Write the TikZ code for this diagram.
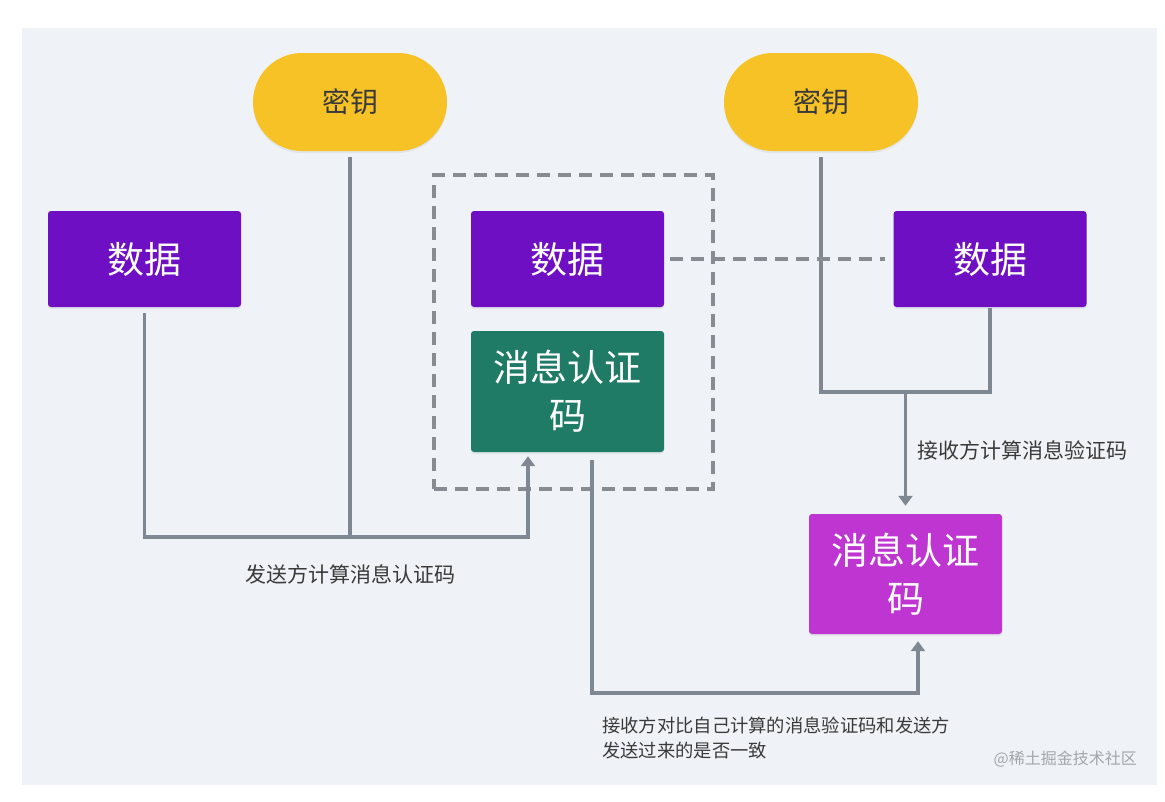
\documentclass[tikz,border=0pt]{standalone}
\usepackage{fontspec}
\setmainfont{Noto Sans CJK SC}
\usetikzlibrary{arrows.meta,shapes.misc,shadows}
\definecolor{panelbg}{HTML}{EFF3F7}
\definecolor{keyyellow}{HTML}{F6C225}
\definecolor{datapurple}{HTML}{6F0FC3}
\definecolor{macgreen}{HTML}{1F7A66}
\definecolor{macmagenta}{HTML}{BE35D2}
\definecolor{linegray}{HTML}{7F8892}
\definecolor{dashgray}{HTML}{878C93}
\definecolor{textdark}{HTML}{3A3A3A}
\definecolor{wmgray}{HTML}{A3A7AB}
\tikzset{
  softshadow/.style={drop shadow={opacity=0.12,shadow xshift=0pt,shadow yshift=-2pt}},
  keynode/.style={rounded rectangle,fill=keyyellow,minimum width=194pt,minimum height=98pt,inner sep=0pt,text=textdark,font=\fontsize{28}{34}\selectfont,softshadow},
  boxnode/.style={rectangle,rounded corners=3pt,minimum width=193pt,inner sep=0pt,text=white,align=center,softshadow},
  datanode/.style={boxnode,fill=datapurple,minimum height=96pt,font=\fontsize{37}{44}\selectfont},
  macnode/.style={boxnode,minimum height=121pt,font=\fontsize{37}{48}\selectfont},
  conn/.style={draw=linegray,line width=3.5pt},
  arrowconn/.style={conn,-{Triangle[width=14pt,length=10pt]}},
  dashline/.style={draw=dashgray,line width=4pt,dash pattern=on 13pt off 8pt},
  lbl/.style={text=textdark,inner sep=0pt},
}
\begin{document}
\begin{tikzpicture}[x=1pt,y=-1pt]
\useasboundingbox (0,0) rectangle (1165,801);
\fill[white] (0,0) rectangle (1165,801);
\fill[panelbg] (22,28) rectangle (1157,785);

% group box
\node[dashline,draw,rectangle,minimum width=279pt,minimum height=314pt,inner sep=0pt] (group) at (573.5,332) {};

% nodes
\node[keynode] (lkey) at (350,102) {密钥};
\node[keynode] (rkey) at (821,102) {密钥};
\node[datanode] (ldata) at (144.5,259) {数据};
\node[datanode] (mdata) at (567.5,259) {数据};
\node[datanode] (rdata) at (990,259) {数据};
\node[macnode,fill=macgreen] (gmac) at (567.5,391.5) {消息认证\\码};
\node[macnode,fill=macmagenta,minimum height=120pt] (mmac) at (905.5,574) {消息认证\\码};

% helper coordinates
\coordinate (sendy) at (0,537);
\coordinate (cmpy) at (0,693);
\coordinate (recvy) at (0,392);
\coordinate (gin) at ([xshift=-39.5pt]gmac.south);
\coordinate (gout) at ([xshift=24.5pt]gmac.south);
\coordinate (min) at ([xshift=12.5pt]mmac.south);

% sender computes MAC
\draw[arrowconn,shorten <=6pt,shorten >=4pt] (ldata.south) -- (ldata.south |- sendy) -| (gin);
\draw[conn,shorten <=6pt] (lkey.south) -- (lkey.south |- sendy);

% compare
\draw[arrowconn,shorten <=8pt,shorten >=7pt] (gout) -- (gout |- cmpy) -| (min);

% receiver computes MAC
\draw[conn,shorten <=6pt,shorten >=1pt] (rkey.south) -- (rkey.south |- recvy) -| (rdata.south);
\draw[arrowconn,shorten >=8pt] (mmac.north |- recvy) -- (mmac.north);

% data transfer dashed
\draw[dashline,shorten <=6pt,shorten >=8pt] (mdata.east) -- (rdata.west);

% labels
\node[lbl,font=\fontsize{21}{26}\selectfont] (sendlbl) at (350,574) {发送方计算消息认证码};
\node[lbl,anchor=west,font=\fontsize{21}{26}\selectfont] (recvlbl) at (917,450) {接收方计算消息验证码};
\node[lbl,anchor=west,align=left,font=\fontsize{18.3}{25}\selectfont] (cmplbl) at (602,737.5) {接收方对比自己计算的消息验证码和发送方\\发送过来的是否一致};
\node[anchor=east,inner sep=0pt,text=wmgray,font=\fontsize{16}{20}\selectfont] (wm) at (1137,759) {@稀土掘金技术社区};
\end{tikzpicture}
\end{document}
